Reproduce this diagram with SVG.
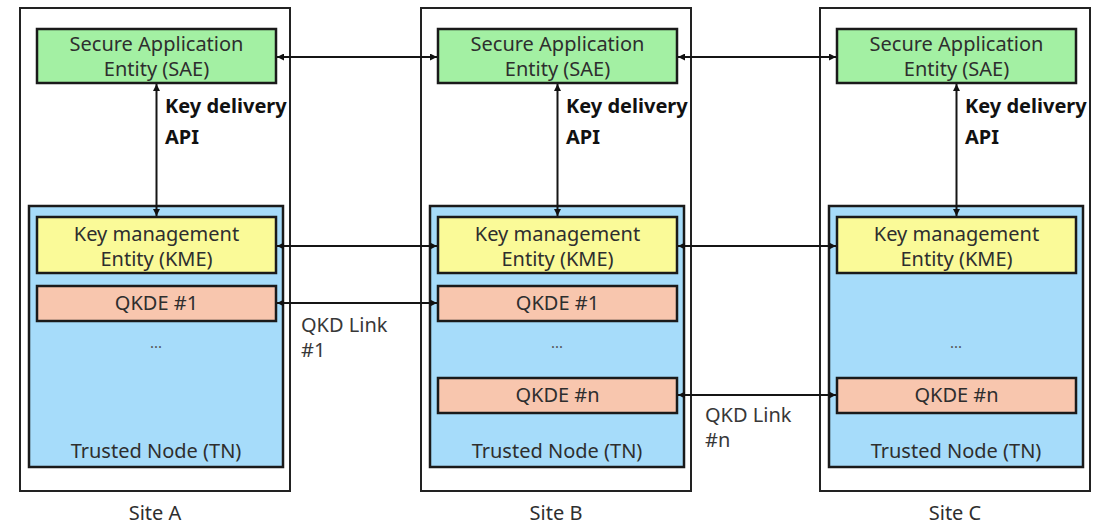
<svg xmlns="http://www.w3.org/2000/svg" width="1099" height="524" viewBox="0 0 1099 524">
<defs>
<marker id="ah" viewBox="0 0 8 8" refX="8" refY="4" markerWidth="7" markerHeight="7" markerUnits="userSpaceOnUse" orient="auto-start-reverse">
<path d="M0,0 L8,4 L0,8 Z" fill="#111"/>
</marker>
</defs>
<style>
.site{fill:#fff;stroke:#222;stroke-width:2}
.tn{fill:#a6dcfa;stroke:#1a1a1a;stroke-width:2.5}
.sae{fill:#a3f0a3;stroke:#1a1a1a;stroke-width:2.5}
.kme{fill:#fafa98;stroke:#1a1a1a;stroke-width:2.5}
.qk{fill:#f8c6ae;stroke:#1a1a1a;stroke-width:2.5}
text{font-family:"Noto Sans","Open Sans","DejaVu Sans",sans-serif;font-size:20px;fill:#2e2e2e;text-anchor:middle}
.api{font-weight:bold;font-size:20px;fill:#111;text-anchor:start}
.lbl{text-anchor:start;fill:#383838}
.dots{font-size:15px;fill:#555}
.c{stroke:#151515;stroke-width:2;fill:none;marker-start:url(#ah);marker-end:url(#ah)}
</style>
<g id="siteA">
<rect class="site" x="20" y="8" width="270" height="483"/>
<text x="155" y="520">Site A</text>
</g>
<g id="siteB">
<rect class="site" x="421" y="8" width="270" height="483"/>
<text x="556" y="520">Site B</text>
</g>
<g id="siteC">
<rect class="site" x="820" y="8" width="270" height="483"/>
<text x="955" y="520">Site C</text>
</g>
<g id="tnA"><rect class="tn" x="29" y="206" width="254" height="261"/><text x="156" y="458">Trusted Node (TN)</text><text class="dots" x="156" y="348">...</text></g>
<g id="tnB"><rect class="tn" x="430" y="206" width="254" height="261"/><text x="557" y="458">Trusted Node (TN)</text><text class="dots" x="557" y="348">...</text></g>
<g id="tnC"><rect class="tn" x="829" y="206" width="254" height="261"/><text x="956" y="458">Trusted Node (TN)</text><text class="dots" x="956" y="348">...</text></g>
<g id="saeA"><rect class="sae" x="37" y="29" width="239" height="54"/><text x="156.5" y="51">Secure Application</text><text x="156.5" y="76">Entity (SAE)</text></g>
<g id="saeB"><rect class="sae" x="438" y="29" width="239" height="54"/><text x="557.5" y="51">Secure Application</text><text x="557.5" y="76">Entity (SAE)</text></g>
<g id="saeC"><rect class="sae" x="837" y="29" width="239" height="54"/><text x="956.5" y="51">Secure Application</text><text x="956.5" y="76">Entity (SAE)</text></g>
<g id="kmeA"><rect class="kme" x="37" y="217" width="239" height="56"/><text x="156.5" y="241">Key management</text><text x="156.5" y="266">Entity (KME)</text></g>
<g id="kmeB"><rect class="kme" x="438" y="217" width="239" height="56"/><text x="557.5" y="241">Key management</text><text x="557.5" y="266">Entity (KME)</text></g>
<g id="kmeC"><rect class="kme" x="837" y="217" width="239" height="56"/><text x="956.5" y="241">Key management</text><text x="956.5" y="266">Entity (KME)</text></g>
<g id="qkdeA1"><rect class="qk" x="37" y="286" width="239" height="35"/><text x="156.5" y="310">QKDE #1</text></g>
<g id="qkdeB1"><rect class="qk" x="438" y="286" width="239" height="35"/><text x="557.5" y="310">QKDE #1</text></g>
<g id="qkdeBn"><rect class="qk" x="438" y="378" width="239" height="35"/><text x="557.5" y="402">QKDE #n</text></g>
<g id="qkdeCn"><rect class="qk" x="837" y="378" width="239" height="35"/><text x="956.5" y="402">QKDE #n</text></g>
<g id="labels">
<text class="api" x="165" y="113">Key delivery</text><text class="api" x="165" y="144">API</text>
<text class="api" x="566" y="113">Key delivery</text><text class="api" x="566" y="144">API</text>
<text class="api" x="965" y="113">Key delivery</text><text class="api" x="965" y="144">API</text>
<text class="lbl" x="301" y="332">QKD Link</text><text class="lbl" x="301" y="357">#1</text>
<text class="lbl" x="705" y="422">QKD Link</text><text class="lbl" x="705" y="447">#n</text>
</g>
<g id="connectors">
<line class="c" x1="156.5" y1="84" x2="156.5" y2="216"/>
<line class="c" x1="557.5" y1="84" x2="557.5" y2="216"/>
<line class="c" x1="956.5" y1="84" x2="956.5" y2="216"/>
<line class="c" x1="277" y1="57" x2="437" y2="57"/>
<line class="c" x1="678" y1="57" x2="836" y2="57"/>
<line class="c" x1="277" y1="246" x2="437" y2="246"/>
<line class="c" x1="678" y1="246" x2="836" y2="246"/>
<line class="c" x1="277" y1="303" x2="437" y2="303"/>
<line class="c" x1="678" y1="395" x2="836" y2="395"/>
</g>
</svg>
